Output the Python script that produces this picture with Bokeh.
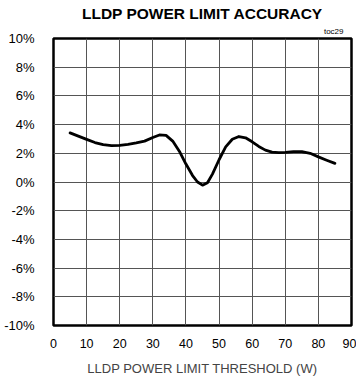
from bokeh.plotting import figure
from bokeh.models import Range1d, Title, PrintfTickFormatter, FixedTicker
from bokeh.embed import file_html
from bokeh.resources import INLINE

threshold_w = [5, 7.5, 10, 12.5, 15, 17.5, 20, 22.5, 25, 27.5, 30, 32, 34, 36, 38, 40, 42, 43.5, 45, 46.5, 48, 50, 52, 54, 56, 58, 60, 62, 64, 66, 68, 70, 72.5, 75, 77.5, 80, 82.5, 85]
accuracy_pct = [3.42, 3.2, 2.97, 2.75, 2.6, 2.53, 2.55, 2.62, 2.72, 2.85, 3.1, 3.28, 3.25, 2.85, 2.15, 1.25, 0.45, 0.0, -0.22, -0.05, 0.55, 1.55, 2.45, 2.98, 3.17, 3.08, 2.8, 2.48, 2.22, 2.08, 2.05, 2.07, 2.12, 2.12, 2.0, 1.75, 1.52, 1.3]
x_ticks = [0, 10, 20, 30, 40, 50, 60, 70, 80, 90]
y_ticks = [-10, -8, -6, -4, -2, 0, 2, 4, 6, 8, 10]

FONT = "Liberation Sans"

p = figure(width=356, height=381, output_backend="svg", toolbar_location=None,
           x_range=Range1d(0, 90), y_range=Range1d(-10, 10),
           min_border_left=53, min_border_right=5, min_border_top=38, min_border_bottom=56)

p.title.text = "LLDP POWER LIMIT ACCURACY"
p.title.align = "center"
p.title.text_font = FONT
p.title.text_font_size = "15.5px"
p.title.text_font_style = "bold"
p.title.text_color = "black"
p.title.standoff = 1

p.add_layout(Title(text="toc29", align="right", text_font=FONT, text_font_size="8px",
                   text_font_style="normal", text_color="black", standoff=5, offset=8), "above")

p.line(threshold_w, accuracy_pct, line_color="black", line_width=2.8, line_join="round", line_cap="round")

p.xaxis.ticker = FixedTicker(ticks=x_ticks)
p.yaxis.ticker = FixedTicker(ticks=y_ticks)
p.yaxis.formatter = PrintfTickFormatter(format="%d%%")
p.xaxis.axis_label = "LLDP POWER LIMIT THRESHOLD (W)"
p.xaxis.axis_label_text_font = FONT
p.xaxis.axis_label_text_font_size = "13px"
p.xaxis.axis_label_text_font_style = "normal"
p.xaxis.axis_label_standoff = 10

for ax in (p.xaxis[0], p.yaxis[0]):
    ax.axis_line_color = None
    ax.major_tick_line_color = None
    ax.minor_tick_line_color = None
    ax.major_label_text_font = FONT
    ax.major_label_text_color = "black"
p.xaxis.major_label_text_font_size = "12.5px"
p.yaxis.major_label_text_font_size = "13px"
p.xaxis.major_label_standoff = 7
p.yaxis.major_label_standoff = 13

p.grid.grid_line_color = "#555555"
p.grid.grid_line_width = 1
p.outline_line_color = "black"
p.outline_line_width = 2.5
p.outline_line_alpha = 1

open("out.html", "w").write(file_html(p, INLINE))
